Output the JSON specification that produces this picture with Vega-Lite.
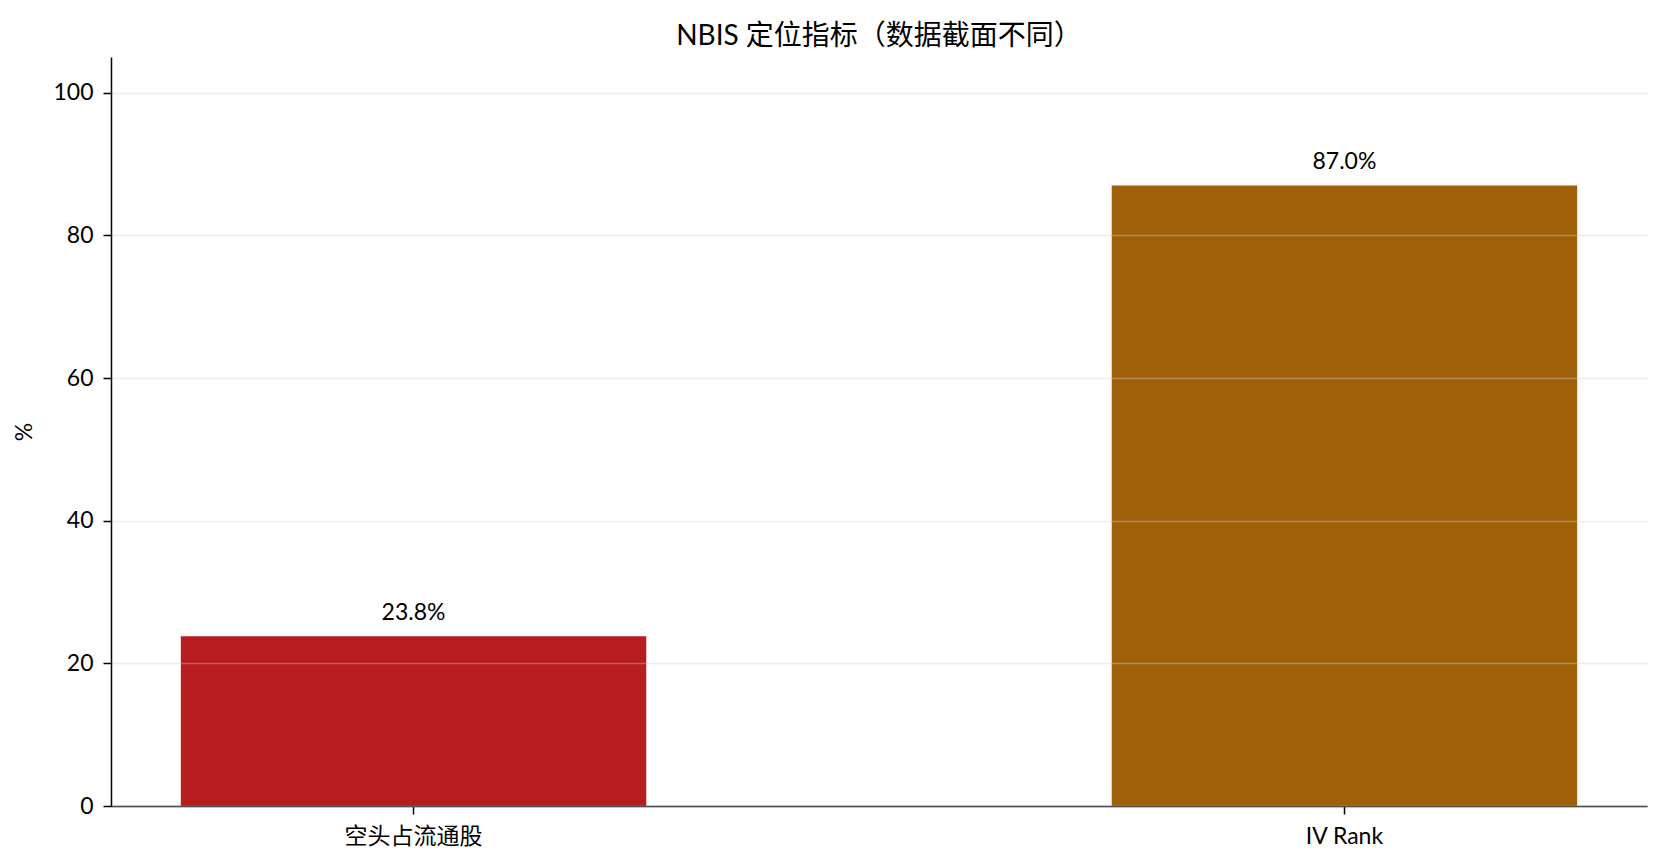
{
  "$schema": "https://vega.github.io/schema/vega-lite/v6.json",
  "width": 1536,
  "height": 749,
  "autosize": {"type": "none"},
  "padding": {"left": 111, "top": 57, "right": 16, "bottom": 59},
  "background": "white",
  "title": {
    "text": "NBIS 定位指标（数据截面不同）",
    "font": "Lato, Noto Sans CJK SC",
    "fontSize": 28,
    "fontWeight": "normal",
    "color": "black",
    "anchor": "middle",
    "baseline": "alphabetic",
    "offset": 15,
    "dy": 31
  },
  "config": {
    "view": {"stroke": null},
    "font": "Lato, Noto Sans CJK SC"
  },
  "data": {
    "values": [
      {"metric": "空头占流通股", "value": 23.8, "label": "23.8%"},
      {"metric": "IV Rank", "value": 87.0, "label": "87.0%"}
    ]
  },
  "encoding": {
    "x": {
      "field": "metric",
      "type": "nominal",
      "sort": null,
      "title": null,
      "scale": {"paddingInner": 0.5, "paddingOuter": 0.075},
      "axis": {
        "labelAngle": 0,
        "labelFont": "Lato, Noto Sans CJK SC",
        "labelFontSize": 23,
        "labelColor": "black",
        "labelPadding": 11,
        "tickSize": 8,
        "tickColor": "black",
        "tickWidth": 1.5,
        "domainColor": "black",
        "domainWidth": 1.5,
        "grid": false
      }
    },
    "y": {
      "field": "value",
      "type": "quantitative",
      "title": "%",
      "scale": {"domain": [0, 105], "nice": false},
      "axis": {
        "values": [0, 20, 40, 60, 80, 100],
        "labelFont": "Lato, Noto Sans CJK SC",
        "labelFontSize": 23,
        "labelColor": "black",
        "labelPadding": 10,
        "tickSize": 8,
        "tickColor": "black",
        "tickWidth": 1.5,
        "domainColor": "black",
        "domainWidth": 1.5,
        "grid": true,
        "gridColor": "#cccccc",
        "gridOpacity": 0.4,
        "gridWidth": 1.5,
        "titleFont": "Lato, Noto Sans CJK SC",
        "titleFontSize": 23,
        "titleFontWeight": "normal",
        "titleColor": "black",
        "titlePadding": 16,
        "zindex": 1
      }
    }
  },
  "layer": [
    {
      "mark": {"type": "bar"},
      "encoding": {
        "color": {
          "field": "metric",
          "type": "nominal",
          "scale": {"domain": ["空头占流通股", "IV Rank"], "range": ["#B71C1F", "#A0600A"]},
          "legend": null
        }
      }
    },
    {
      "mark": {
        "type": "text",
        "baseline": "alphabetic",
        "dy": -16,
        "fontSize": 23,
        "color": "black",
        "font": "Lato, Noto Sans CJK SC"
      },
      "encoding": {
        "text": {"field": "label", "type": "nominal"}
      }
    }
  ]
}
